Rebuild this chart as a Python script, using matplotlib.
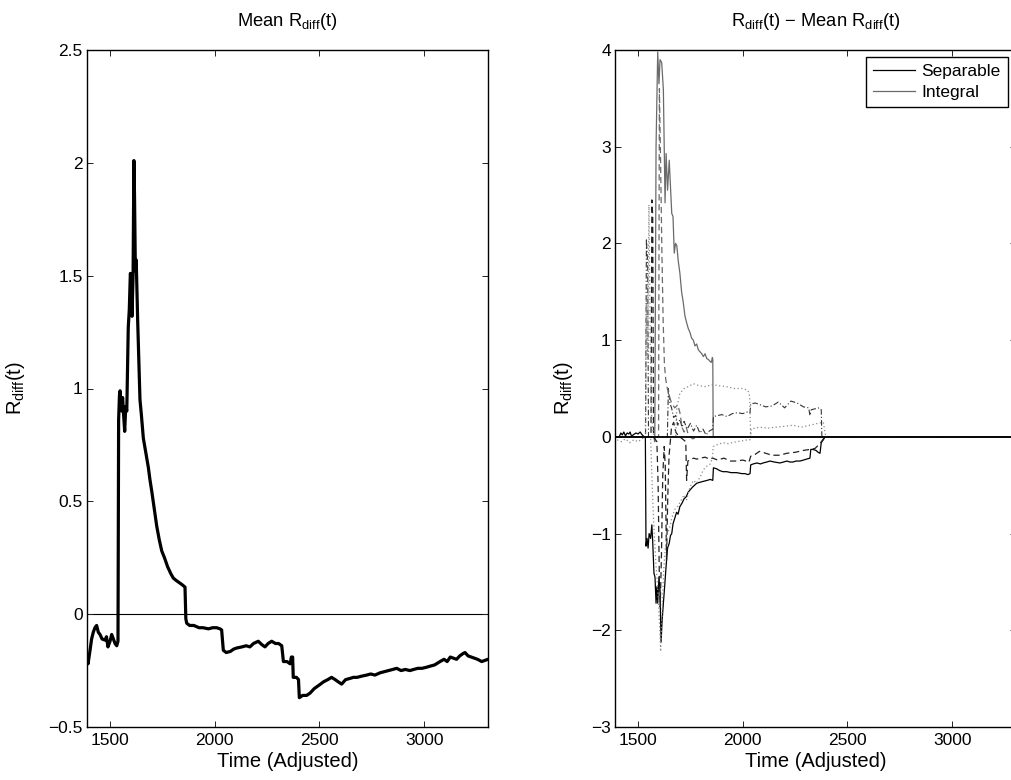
import matplotlib
matplotlib.use("Agg")
import matplotlib.pyplot as plt

plt.rcParams["font.family"] = ["Liberation Sans", "DejaVu Sans"]
plt.rcParams["mathtext.fontset"] = "custom"
plt.rcParams["mathtext.rm"] = "Liberation Sans"
plt.rcParams["mathtext.it"] = "Liberation Sans:italic"
plt.rcParams["mathtext.bf"] = "Liberation Sans:bold"

# ---- mean R_diff(t) across conditions ----
mean_time = [1390, 1395, 1403, 1412, 1420, 1428, 1436, 1444, 1452, 1462,
             1476, 1483, 1490, 1500, 1508, 1516, 1524, 1532, 1538, 1541,
             1545, 1548, 1552, 1556, 1560, 1565, 1570, 1575, 1580, 1587,
             1592, 1597, 1600, 1605, 1610, 1614, 1617, 1621, 1625, 1632,
             1643, 1650, 1659, 1670, 1683, 1690, 1700, 1712, 1723, 1735,
             1747, 1760, 1775, 1790, 1802, 1815, 1830, 1845, 1858, 1862,
             1866, 1880, 1900, 1925, 1944, 1970, 1990, 2009, 2025, 2033,
             2041, 2055, 2075, 2090, 2105, 2130, 2150, 2168, 2185, 2208,
             2225, 2240, 2255, 2272, 2290, 2305, 2320, 2328, 2345, 2360,
             2366, 2372, 2375, 2390, 2400, 2404, 2420, 2439, 2455, 2475,
             2490, 2505, 2519, 2540, 2558, 2575, 2590, 2606, 2625, 2645,
             2662, 2680, 2700, 2725, 2745, 2765, 2789, 2810, 2830, 2850,
             2869, 2890, 2910, 2932, 2950, 2970, 2990, 3012, 3030, 3050,
             3076, 3095, 3110, 3125, 3140, 3155, 3170, 3185, 3195, 3210,
             3225, 3240, 3255, 3275, 3290, 3305]
mean_rdiff = [-0.20, -0.22, -0.17, -0.11, -0.08, -0.06, -0.05, -0.08, -0.09, -0.11,
              -0.115, -0.10, -0.145, -0.12, -0.09, -0.11, -0.13, -0.14, -0.12, 0.86,
              0.97, 0.99, 0.93, 0.90, 0.96, 0.88, 0.81, 0.92, 0.90, 1.27,
              1.35, 1.51, 1.50, 1.32, 1.50, 2.01, 1.85, 1.52, 1.57, 1.30,
              0.95, 0.88, 0.78, 0.72, 0.65, 0.60, 0.54, 0.46, 0.39, 0.33,
              0.28, 0.25, 0.21, 0.18, 0.16, 0.15, 0.14, 0.13, 0.12, -0.02,
              -0.04, -0.05, -0.05, -0.06, -0.06, -0.065, -0.06, -0.06, -0.065, -0.07,
              -0.16, -0.17, -0.165, -0.155, -0.15, -0.145, -0.14, -0.145, -0.13, -0.12,
              -0.135, -0.145, -0.13, -0.12, -0.13, -0.13, -0.14, -0.21, -0.21, -0.22,
              -0.19, -0.19, -0.28, -0.28, -0.29, -0.37, -0.36, -0.36, -0.35, -0.33,
              -0.32, -0.31, -0.30, -0.29, -0.28, -0.29, -0.30, -0.31, -0.29, -0.285,
              -0.28, -0.28, -0.275, -0.27, -0.265, -0.27, -0.26, -0.255, -0.25, -0.245,
              -0.24, -0.25, -0.245, -0.25, -0.245, -0.24, -0.24, -0.235, -0.23, -0.225,
              -0.21, -0.20, -0.21, -0.19, -0.195, -0.20, -0.185, -0.175, -0.17, -0.185,
              -0.19, -0.195, -0.20, -0.21, -0.205, -0.20]

# ---- deviations from the mean, per condition ----
sep_solid_time = [1390, 1410, 1418, 1425, 1432, 1440, 1448, 1456, 1462, 1470,
                  1476, 1490, 1500, 1510, 1520, 1530, 1535, 1538, 1543, 1548,
                  1553, 1560, 1566, 1570, 1576, 1581, 1586, 1590, 1594, 1600,
                  1605, 1610, 1615, 1621, 1627, 1634, 1641, 1649, 1655, 1661,
                  1667, 1677, 1684, 1691, 1700, 1709, 1720, 1730, 1740, 1748,
                  1760, 1770, 1780, 1795, 1812, 1830, 1845, 1857, 1860, 1875,
                  1891, 1905, 1923, 1945, 1971, 1995, 2010, 2025, 2035, 2038,
                  2050, 2068, 2085, 2097, 2115, 2130, 2150, 2178, 2195, 2211,
                  2225, 2240, 2255, 2274, 2290, 2305, 2321, 2325, 2335, 2350,
                  2360, 2369, 2375, 2385, 2393, 3305]
sep_solid_dev = [0.0, 0.0, 0.04, 0.02, 0.05, 0.01, 0.04, 0.03, 0.05, 0.0,
                 0.02, 0.04, 0.03, 0.05, 0.02, 0.0, 0.0, -1.13, -1.05, -1.15,
                 -1.0, -1.05, -0.91, -1.08, -1.41, -1.45, -1.72, -1.55, -1.72, -1.45,
                 -1.6, -2.12, -1.9, -1.72, -1.55, -1.34, -1.15, -1.10, -1.02, -1.0,
                 -0.9, -0.83, -0.78, -0.80, -0.72, -0.69, -0.64, -0.62, -0.57, -0.55,
                 -0.52, -0.50, -0.48, -0.47, -0.46, -0.45, -0.44, -0.45, -0.32, -0.33,
                 -0.35, -0.36, -0.36, -0.37, -0.37, -0.38, -0.38, -0.39, -0.38, -0.29,
                 -0.28, -0.27, -0.28, -0.27, -0.26, -0.25, -0.26, -0.27, -0.26, -0.25,
                 -0.26, -0.26, -0.25, -0.25, -0.24, -0.23, -0.22, -0.13, -0.13, -0.14,
                 -0.16, -0.17, -0.06, -0.03, 0.0, 0.0]

int_solid_time = [1390, 1530, 1575, 1580, 1586, 1594, 1600, 1605, 1613, 1621,
                  1629, 1634, 1641, 1649, 1661, 1667, 1673, 1679, 1685, 1692,
                  1700, 1708, 1716, 1724, 1732, 1740, 1748, 1756, 1764, 1772,
                  1780, 1788, 1796, 1804, 1812, 1820, 1828, 1836, 1844, 1850,
                  1855, 1857, 1859, 3305]
int_solid_dev = [0.0, 0.0, 0.0, -0.05, 3.0, 3.98, 3.65, 3.9, 3.87, 3.59,
                 2.42, 2.93, 2.55, 2.86, 2.31, 2.28, 1.90, 2.0, 1.98, 1.82,
                 1.69, 1.50, 1.39, 1.25, 1.18, 1.12, 1.08, 1.02, 1.0, 0.94,
                 0.96, 0.90, 0.88, 0.86, 0.83, 0.86, 0.81, 0.80, 0.78, 0.77,
                 0.82, 0.80, 0.0, 0.0]

sep_dashed_time = [1390, 1530, 1562, 1566, 1570, 1574, 1590, 1596, 1602, 1606,
                   1612, 1618, 1625, 1630, 1636, 1642, 1648, 1660, 1670, 1680,
                   1690, 1700, 1728, 1732, 1738, 1748, 1765, 1780, 1800, 1820,
                   1840, 1857, 1880, 1910, 1940, 1971, 2000, 2030, 2038, 2060,
                   2080, 2110, 2140, 2178, 2210, 2250, 2290, 2321, 2345, 2369,
                   2385, 2393, 3305]
sep_dashed_dev = [0.0, 0.0, 0.0, 2.45, 2.3, 0.0, -0.05, -0.5, -1.5, -1.76,
                  -1.2, -0.4, -0.1, -0.3, -1.27, -0.62, -0.2, 0.1, 0.15, 0.05,
                  0.02, 0.0, -0.05, -0.45, -0.25, -0.24, -0.22, -0.23, -0.22, -0.21,
                  -0.23, -0.22, -0.24, -0.22, -0.25, -0.25, -0.24, -0.26, -0.2, -0.18,
                  -0.15, -0.17, -0.19, -0.19, -0.17, -0.16, -0.14, -0.13, -0.12, -0.07,
                  -0.02, 0.0, 0.0]

sep_dashdot_time = [1390, 1530, 1536, 1540, 1546, 1550, 1640, 1645, 1652, 1660,
                    1670, 1680, 1690, 1700, 1710, 1720, 1735, 1750, 1765, 1780,
                    1795, 1810, 1825, 1840, 1857, 1860, 1880, 1900, 1925, 1950,
                    1975, 2000, 2025, 2035, 2038, 2060, 2085, 2110, 2140, 2170,
                    2200, 2230, 2260, 2290, 2315, 2321, 2327, 2345, 2365, 2375,
                    2378, 3305]
sep_dashdot_dev = [0.0, 0.0, 0.0, 2.05, 1.8, 0.0, 0.0, 0.5, 0.35, 0.3,
                   0.2, 0.22, 0.12, 0.18, 0.1, 0.16, 0.08, 0.14, 0.06, 0.12,
                   0.04, 0.08, 0.02, 0.06, 0.08, 0.21, 0.22, 0.23, 0.21, 0.24,
                   0.25, 0.24, 0.26, 0.25, 0.34, 0.35, 0.33, 0.31, 0.32, 0.36,
                   0.30, 0.37, 0.35, 0.31, 0.30, 0.22, 0.28, 0.29, 0.30, 0.28,
                   0.0, 0.0]

int_dashed_time = [1390, 1530, 1598, 1602, 1608, 1614, 1620, 1626, 1632, 1640,
                   1650, 1660, 1675, 1690, 1700, 1710, 1720, 1730, 1740, 1760,
                   1800, 3305]
int_dashed_dev = [0.0, 0.0, 0.0, 3.6, 2.8, 1.9, 1.2, 0.75, 0.6, 0.5,
                  0.42, 0.35, 0.30, 0.33, 0.25, 0.1, 0.05, 0.1, 0.02, -0.02,
                  0.0, 0.0]

int_dotted_time = [1390, 1400, 1420, 1440, 1460, 1480, 1500, 1520, 1530, 1560,
                   1566, 1575, 1585, 1595, 1602, 1608, 1615, 1622, 1630, 1640,
                   1650, 1660, 1675, 1690, 1705, 1720, 1732, 1748, 1765, 1780,
                   1800, 1812, 1830, 1845, 1855, 1859, 1880, 1905, 1930, 1971,
                   2000, 2025, 2035, 2040, 3305]
int_dotted_dev = [0.0, -0.03, -0.05, -0.02, -0.06, -0.03, -0.05, -0.02, 0.0, 0.0,
                  -0.4, -0.9, -1.3, -1.6, -1.9, -2.22, -1.8, -1.4, -1.15, -1.0,
                  -0.95, -0.85, -0.75, -0.72, -0.66, -0.6, -0.65, -0.52, -0.45, -0.48,
                  -0.4, -0.34, -0.3, -0.28, -0.22, -0.10, -0.08, -0.06, -0.07, -0.05,
                  -0.04, -0.03, -0.03, 0.0, 0.0]

int_dotted2_time = [1390, 1530, 1535, 1540, 1546, 1552, 1558, 1565, 1575, 1680,
                    1685, 1700, 1720, 1740, 1764, 1790, 1820, 1857, 1880, 1920,
                    1960, 2000, 2025, 2033, 2038, 2040, 2080, 2120, 2160, 2200,
                    2240, 2280, 2320, 2360, 2385, 2395, 2410, 3305]
int_dotted2_dev = [0.0, 0.0, 0.0, 1.4, 0.8, 2.4, 1.0, 0.2, 0.0, 0.0,
                   0.3, 0.45, 0.50, 0.52, 0.55, 0.53, 0.52, 0.54, 0.53, 0.52,
                   0.50, 0.50, 0.48, 0.42, 0.0, 0.08, 0.1, 0.09, 0.1, 0.11,
                   0.12, 0.1, 0.12, 0.14, 0.15, 0.02, 0.0, 0.0]

x_ticks = [1500, 2000, 2500, 3000]
x_limits = (1390, 3305)
left_yticks = [-0.5, 0, 0.5, 1, 1.5, 2, 2.5]
left_yticklabels = ["\u22120.5", "0", "0.5", "1", "1.5", "2", "2.5"]
right_yticks = [-3, -2, -1, 0, 1, 2, 3, 4]
right_yticklabels = ["\u22123", "\u22122", "\u22121", "0", "1", "2", "3", "4"]

W, H = 1011, 780
fig = plt.figure(figsize=(W / 100, H / 100), dpi=100)
ax1 = fig.add_axes([87 / W, 53 / H, 401 / W, 677 / H])
ax2 = fig.add_axes([615 / W, 53 / H, 401 / W, 677 / H])

ylab = r"$\mathrm{R_{diff}}$(t)"


def style(ax):
    ax.set_xlim(*x_limits)
    ax.set_xticks(x_ticks)
    ax.set_xticklabels([str(t) for t in x_ticks])
    ax.tick_params(direction="in", top=True, right=True, length=4.5, width=0.7,
                   labelsize=12.5, color="#222222")
    ax.tick_params(axis="x", pad=4)
    ax.tick_params(axis="y", pad=3)
    for sp in ax.spines.values():
        sp.set_linewidth(1.0)
    ax.set_xlabel("Time (Adjusted)", fontsize=14.5, labelpad=3)


# left panel
ax1.axhline(0, color="black", lw=0.8, zorder=1)
ax1.plot(mean_time, mean_rdiff, color="black", lw=2.3, solid_joinstyle="round", zorder=3)
style(ax1)
ax1.set_ylim(-0.5, 2.5)
ax1.set_yticks(left_yticks)
ax1.set_yticklabels(left_yticklabels)
ax1.set_title(r"Mean $\mathrm{R_{diff}}$(t)", fontsize=13.2, pad=17)
ax1.set_ylabel(ylab, fontsize=14.5)
ax1.yaxis.set_label_coords(-0.15, 0.5)

# right panel
l_sep, = ax2.plot(sep_solid_time, sep_solid_dev, color="black", lw=0.9, label="Separable")
l_int, = ax2.plot(int_solid_time, int_solid_dev, color="#6a6a6a", lw=0.9, label="Integral")
ax2.plot(sep_dashed_time, sep_dashed_dev, color="#222222", lw=0.9, ls=(0, (5, 3)))
ax2.plot(sep_dashdot_time, sep_dashdot_dev, color="#333333", lw=0.8, ls=(0, (5, 2, 1, 2)))
ax2.plot(int_dashed_time, int_dashed_dev, color="#6a6a6a", lw=0.9, ls=(0, (5, 3)))
ax2.plot(int_dotted_time, int_dotted_dev, color="#8a8a8a", lw=0.9, ls=(0, (1, 2)))
ax2.plot(int_dotted2_time, int_dotted2_dev, color="#8a8a8a", lw=0.9, ls=(0, (1, 2)))
ax2.axhline(0, color="black", lw=1.3, zorder=5)
style(ax2)
ax2.set_ylim(-3, 4)
ax2.set_yticks(right_yticks)
ax2.set_yticklabels(right_yticklabels)
ax2.set_title(r"$\mathrm{R_{diff}}$(t) $-$ Mean $\mathrm{R_{diff}}$(t)", fontsize=13.2, pad=17)
ax2.set_ylabel(ylab, fontsize=14.5)
ax2.yaxis.set_label_coords(-0.10, 0.5)

leg = ax2.legend(handles=[l_sep, l_int], loc="upper right",
                 bbox_to_anchor=(1008 / W, (H - 57) / H), bbox_transform=fig.transFigure,
                 borderaxespad=0, fontsize=12.5, frameon=True, fancybox=False,
                 framealpha=1, edgecolor="black", handlelength=2.4,
                 labelspacing=0.32, borderpad=0.42, handletextpad=0.4)
leg.get_frame().set_linewidth(1.0)

fig.savefig("out.png", dpi=100)
